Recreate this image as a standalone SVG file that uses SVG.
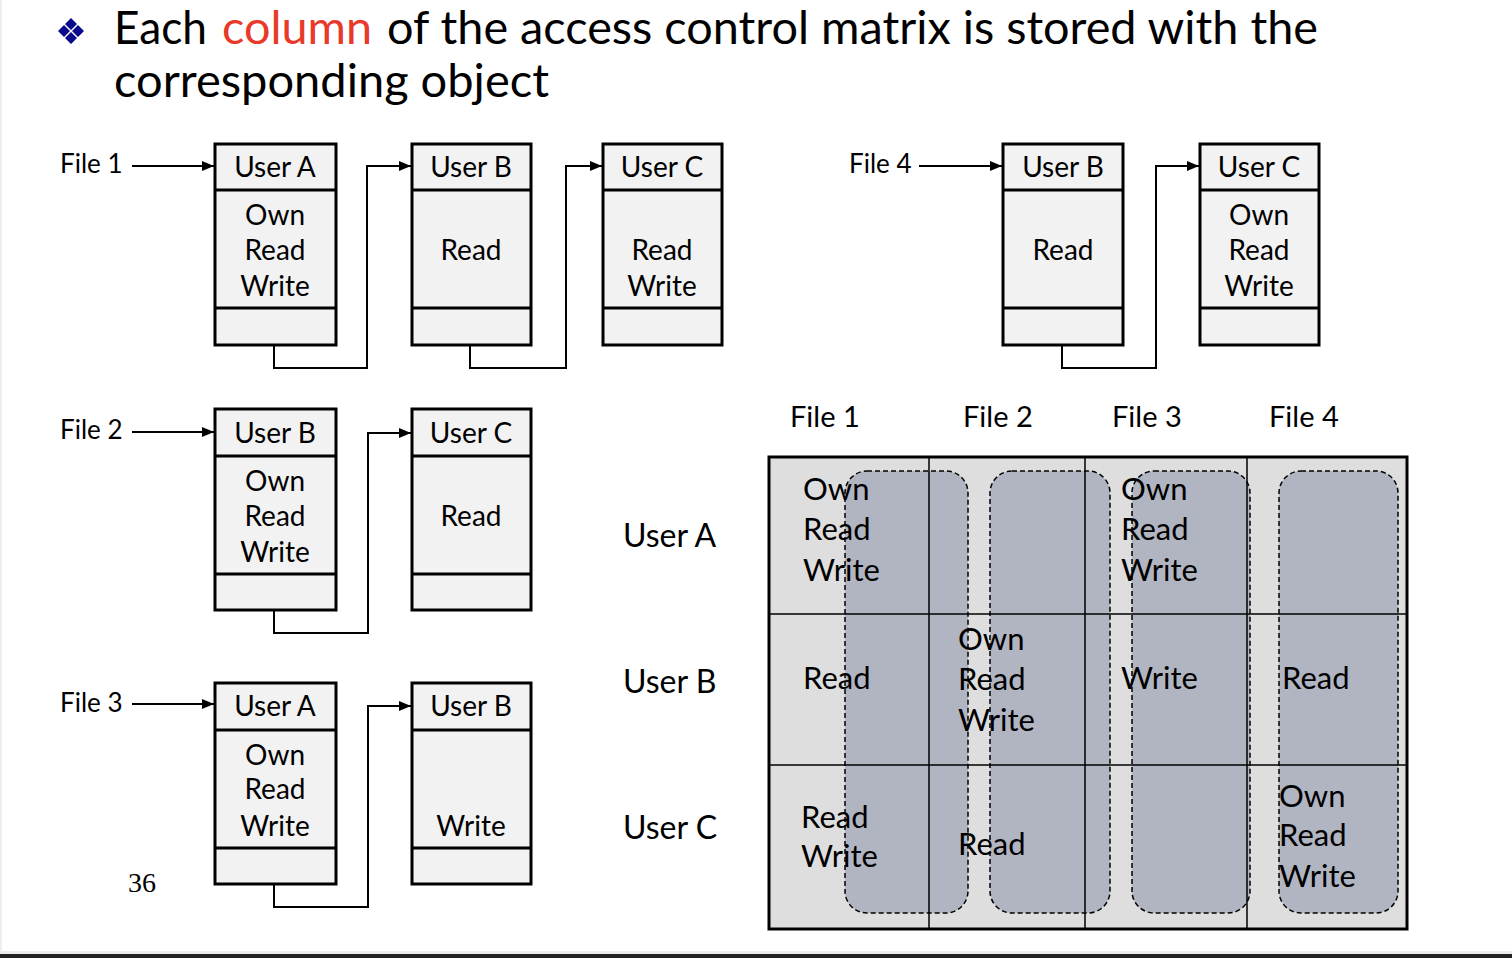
<svg xmlns="http://www.w3.org/2000/svg" width="1512" height="958" viewBox="0 0 1512 958">
<defs>
<marker id="arr" markerUnits="userSpaceOnUse" markerWidth="12" markerHeight="10" refX="12" refY="5" orient="auto">
<path d="M0,0 L12,5 L0,10 z" fill="#000"/>
</marker>
<style>
.bx{fill:#f2f2f2;stroke:#000;stroke-width:3}
.dv{stroke:#000;stroke-width:3}
.t{font-family:Lato,"Open Sans",sans-serif;font-size:28px;fill:#000}
.tc{text-anchor:middle}
.lbl{font-family:Lato,"Open Sans",sans-serif;font-size:26px;fill:#000}
.ml{font-family:Lato,"Open Sans",sans-serif;font-size:29px;fill:#000}
.rl{font-family:Lato,"Open Sans",sans-serif;font-size:32px;fill:#000}
.mt{font-family:Lato,"Open Sans",sans-serif;font-size:31px;fill:#000}
.cn{fill:none;stroke:#000;stroke-width:2}
.dash{fill:#b1b5c2;stroke:#000;stroke-width:1.5;stroke-dasharray:5 3}
.grid{stroke:#000;stroke-width:1.5}
.ttl{font-family:Lato,"Open Sans",sans-serif;font-size:46px;fill:#000}
</style>
</defs>
<rect width="1512" height="958" fill="#fff"/>
<rect x="0" y="0" width="2" height="951" fill="#eeeeee"/>
<rect x="0" y="951" width="1512" height="3" fill="#ececec"/>
<rect x="0" y="954" width="1512" height="4" fill="#222"/>

<g id="title">
<path d="M71,18 L77,24 L71,30 L65,24 z M64,25 L70,31 L64,37 L58,31 z M78,25 L84,31 L78,37 L72,31 z M71,32 L77,38 L71,44 L65,38 z" fill="#0a0a8c"/>
<text class="ttl" x="114" y="44" textLength="93" lengthAdjust="spacingAndGlyphs">Each</text>
<text class="ttl" x="222" y="44" textLength="150" lengthAdjust="spacingAndGlyphs" style="fill:#e8392b">column</text>
<text class="ttl" x="387" y="44" textLength="931" lengthAdjust="spacingAndGlyphs">of the access control matrix is stored with the</text>
<text class="ttl" x="114" y="97" textLength="435" lengthAdjust="spacingAndGlyphs">corresponding object</text>
</g>

<g id="connectors">
<line class="cn" x1="132" y1="166" x2="214" y2="166" marker-end="url(#arr)"/>
<path class="cn" d="M274,326 V368 H367 V166 H411" marker-end="url(#arr)"/>
<path class="cn" d="M470,326 V368 H566 V166 H602" marker-end="url(#arr)"/>
<line class="cn" x1="919" y1="166" x2="1002" y2="166" marker-end="url(#arr)"/>
<path class="cn" d="M1062,326 V368 H1156 V166 H1199" marker-end="url(#arr)"/>
<line class="cn" x1="132" y1="432" x2="214" y2="432" marker-end="url(#arr)"/>
<path class="cn" d="M274,592 V633 H368 V433 H411" marker-end="url(#arr)"/>
<line class="cn" x1="132" y1="704" x2="214" y2="704" marker-end="url(#arr)"/>
<path class="cn" d="M274,865 V907 H368 V706 H411" marker-end="url(#arr)"/>
<circle cx="274" cy="326" r="5.5"/>
<circle cx="470" cy="326" r="5.5"/>
<circle cx="1062" cy="326" r="5.5"/>
<circle cx="274" cy="592" r="5.5"/>
<circle cx="274" cy="865" r="5.5"/>
</g>

<g id="labels">
<text class="lbl" x="60" y="173">File 1</text>
<text class="lbl" x="849" y="173">File 4</text>
<text class="lbl" x="60" y="439">File 2</text>
<text class="lbl" x="60" y="712">File 3</text>
<text x="128" y="892" style="font-family:'Liberation Serif',serif;font-size:28px">36</text>
</g>

<g id="f1-userA">
<rect class="bx" x="215" y="144" width="121" height="201"/>
<line class="dv" x1="215" y1="190" x2="336" y2="190"/>
<line class="dv" x1="215" y1="308" x2="336" y2="308"/>
<text class="t tc" x="275" y="177">User A</text>
<text class="t tc" x="275" y="225">Own</text>
<text class="t tc" x="275" y="260">Read</text>
<text class="t tc" x="275" y="296">Write</text>
</g>
<g id="f1-userB">
<rect class="bx" x="412" y="144" width="119" height="201"/>
<line class="dv" x1="412" y1="190" x2="531" y2="190"/>
<line class="dv" x1="412" y1="308" x2="531" y2="308"/>
<text class="t tc" x="471" y="177">User B</text>
<text class="t tc" x="471" y="260">Read</text>
</g>
<g id="f1-userC">
<rect class="bx" x="603" y="144" width="119" height="201"/>
<line class="dv" x1="603" y1="190" x2="722" y2="190"/>
<line class="dv" x1="603" y1="308" x2="722" y2="308"/>
<text class="t tc" x="662" y="177">User C</text>
<text class="t tc" x="662" y="260">Read</text>
<text class="t tc" x="662" y="296">Write</text>
</g>

<g id="f4-userB">
<rect class="bx" x="1003" y="144" width="120" height="201"/>
<line class="dv" x1="1003" y1="190" x2="1123" y2="190"/>
<line class="dv" x1="1003" y1="308" x2="1123" y2="308"/>
<text class="t tc" x="1063" y="177">User B</text>
<text class="t tc" x="1063" y="260">Read</text>
</g>
<g id="f4-userC">
<rect class="bx" x="1200" y="144" width="119" height="201"/>
<line class="dv" x1="1200" y1="190" x2="1319" y2="190"/>
<line class="dv" x1="1200" y1="308" x2="1319" y2="308"/>
<text class="t tc" x="1259" y="177">User C</text>
<text class="t tc" x="1259" y="225">Own</text>
<text class="t tc" x="1259" y="260">Read</text>
<text class="t tc" x="1259" y="296">Write</text>
</g>

<g id="f2-userB">
<rect class="bx" x="215" y="409" width="121" height="201"/>
<line class="dv" x1="215" y1="456" x2="336" y2="456"/>
<line class="dv" x1="215" y1="574" x2="336" y2="574"/>
<text class="t tc" x="275" y="443">User B</text>
<text class="t tc" x="275" y="491">Own</text>
<text class="t tc" x="275" y="526">Read</text>
<text class="t tc" x="275" y="562">Write</text>
</g>
<g id="f2-userC">
<rect class="bx" x="412" y="409" width="119" height="201"/>
<line class="dv" x1="412" y1="456" x2="531" y2="456"/>
<line class="dv" x1="412" y1="574" x2="531" y2="574"/>
<text class="t tc" x="471" y="443">User C</text>
<text class="t tc" x="471" y="526">Read</text>
</g>

<g id="f3-userA">
<rect class="bx" x="215" y="683" width="121" height="201"/>
<line class="dv" x1="215" y1="730" x2="336" y2="730"/>
<line class="dv" x1="215" y1="848" x2="336" y2="848"/>
<text class="t tc" x="275" y="716">User A</text>
<text class="t tc" x="275" y="765">Own</text>
<text class="t tc" x="275" y="799">Read</text>
<text class="t tc" x="275" y="836">Write</text>
</g>
<g id="f3-userB">
<rect class="bx" x="412" y="683" width="119" height="201"/>
<line class="dv" x1="412" y1="730" x2="531" y2="730"/>
<line class="dv" x1="412" y1="848" x2="531" y2="848"/>
<text class="t tc" x="471" y="716">User B</text>
<text class="t tc" x="471" y="836">Write</text>
</g>

<g id="matrix">
<rect x="769" y="457" width="638" height="472" fill="#dedede"/>
<rect class="dash" x="845" y="471" width="123" height="442" rx="22"/>
<rect class="dash" x="990" y="471" width="120" height="442" rx="22"/>
<rect class="dash" x="1132" y="471" width="118" height="442" rx="22"/>
<rect class="dash" x="1279" y="471" width="119" height="442" rx="22"/>
<line class="grid" x1="929" y1="457" x2="929" y2="929"/>
<line class="grid" x1="1085" y1="457" x2="1085" y2="929"/>
<line class="grid" x1="1247" y1="457" x2="1247" y2="929"/>
<line class="grid" x1="769" y1="614" x2="1407" y2="614"/>
<line class="grid" x1="769" y1="765" x2="1407" y2="765"/>
<rect x="769" y="457" width="638" height="472" fill="none" stroke="#000" stroke-width="3"/>
<text class="ml" x="790" y="427">File 1</text>
<text class="ml" x="963" y="427">File 2</text>
<text class="ml" x="1112" y="427">File 3</text>
<text class="ml" x="1269" y="427">File 4</text>
<text class="rl" x="623" y="547">User A</text>
<text class="rl" x="623" y="693">User B</text>
<text class="rl" x="623" y="839">User C</text>
<text class="mt" x="803" y="500">Own</text>
<text class="mt" x="803" y="540">Read</text>
<text class="mt" x="803" y="581">Write</text>
<text class="mt" x="1121" y="500">Own</text>
<text class="mt" x="1121" y="540">Read</text>
<text class="mt" x="1121" y="581">Write</text>
<text class="mt" x="803" y="689">Read</text>
<text class="mt" x="958" y="650">Own</text>
<text class="mt" x="958" y="690">Read</text>
<text class="mt" x="958" y="731">Write</text>
<text class="mt" x="1121" y="689">Write</text>
<text class="mt" x="1282" y="689">Read</text>
<text class="mt" x="801" y="828">Read</text>
<text class="mt" x="801" y="867">Write</text>
<text class="mt" x="958" y="855">Read</text>
<text class="mt" x="1279" y="807">Own</text>
<text class="mt" x="1279" y="846">Read</text>
<text class="mt" x="1279" y="887">Write</text>
</g>
</svg>
